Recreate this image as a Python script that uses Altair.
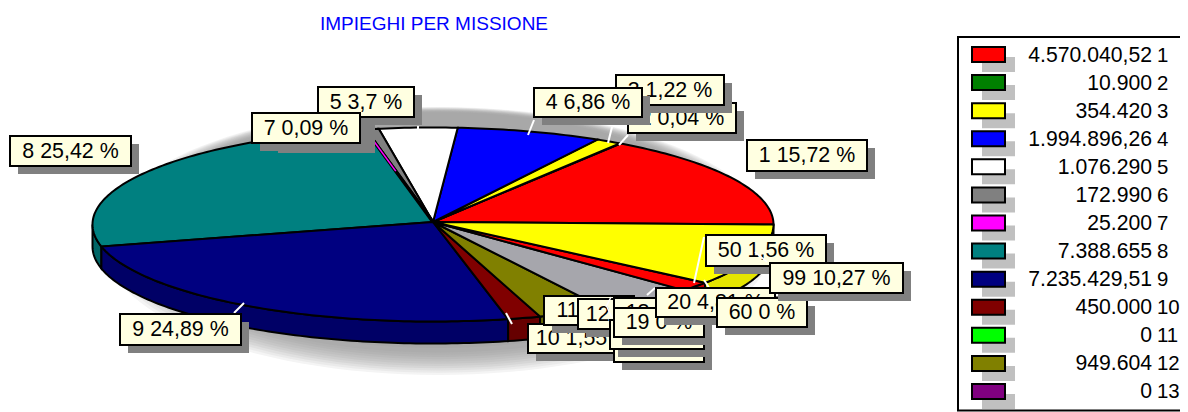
import numpy as np
import pandas as pd
import altair as alt

TITLE = "IMPIEGHI PER MISSIONE"
FONT = "Liberation Sans"

# ---- values
legend_keys = ["1", "2", "3", "4", "5", "6", "7", "8", "9", "10", "11", "12", "13"]
legend_texts = ["4.570.040,52", "10.900", "354.420", "1.994.896,26", "1.076.290", "172.990", "25.200",
                "7.388.655", "7.235.429,51", "450.000", "0", "949.604", "0"]
legend_colors = ["#ff0000", "#008000", "#ffff00", "#0000ff", "#ffffff", "#808080", "#ff00ff",
                 "#008080", "#000080", "#800000", "#00ff00", "#808000", "#800080"]

slice_values = [4570040.52, 10900, 354420, 1994896.26, 1076290, 172990, 25200, 7388655,
                7235429.51, 450000, 0, 949604, 0, 1399000, 453500, 2985000]
slice_colors = legend_colors + ["#a6a6ac", "#ff0000", "#ffff00"]
wall_colors = ["#cc0000", "#006600", "#e5e500", "#0000cc", "#d0d0d0", "#666666", "#cc00cc",
               "#006666", "#000066", "#660000", "#00cc00", "#666600", "#660066",
               "#85858a", "#cc0000", "#e5e500"]

label_texts = ["6 0,6 %", "1 15,72 %", "2 0,04 %", "3 1,22 %", "4 6,86 %", "5 3,7 %", "7 0,09 %",
               "8 25,42 %", "9 24,89 %", "10 1,55 %", "11 0 %", "12 3,27 %", "13 0 %", "17 0 %",
               "18 0 %", "19 0 %", "20 4,81 %", "50 1,56 %", "60 0 %", "99 10,27 %"]

# ---- layout (picture pixels)
W, H = 1172, 404
CX, CY, RX, RY, APEX_Y, DEPTH = 433, 224.5, 340.5, 97, 222, 22
MAGENTA_REACH = 0.45
label_boxes = [(270, 116, 367, 145), (747, 140, 867, 171), (628, 103, 736, 133), (616, 75, 724, 105),
               (534, 88, 642, 117), (318, 87, 414, 117), (252, 113, 360, 143), (10, 136, 131, 166),
               (120, 314, 241, 345), (528, 324, 640, 353), (544, 296, 634, 325), (578, 299, 690, 329),
               (614, 333, 704, 362), (610, 320, 704, 349), (614, 298, 704, 327), (614, 308, 704, 337),
               (656, 288, 775, 317), (706, 235, 826, 266), (717, 298, 807, 327), (770, 263, 903, 293)]
leaders = [(528, 135, 534, 120), (608, 143, 612, 127), (619, 145, 628, 135), (418, 130, 418, 126),
           (234, 313, 244, 303), (506, 313, 512, 324), (694, 283, 704, 237),
           (704, 280, 717, 300), (647, 295, 655, 288)]
leaders_over_boxes = [(755, 252, 767, 262), (611, 297, 606, 307), (607, 307, 612, 318)]
SHADOW_DX, SHADOW_DY = 8, 8
LEG_BOX = (958, 37, 1200, 410.5)
LEG_TOP, LEG_STEP = 54, 28.08
# soft shadow: nested ellipses, outermost first (scale, grey level)
SH_CX, SH_RX, SH_RY, SH_CY0, SH_CY1 = 438, 335, 134, 150, 91
shadow_steps = [(1.00, 244), (0.99, 234), (0.98, 224), (0.97, 214), (0.96, 206), (0.95, 198), (0.94, 192),
                (0.93, 186), (0.92, 180), (0.91, 176), (0.90, 172), (0.88, 168)]

X = lambda f="x": alt.X(f"{f}:Q", scale=alt.Scale(domain=[8, 8 + W], range=[0, W]), axis=None)
Y = lambda f="y": alt.Y(f"{f}:Q", scale=alt.Scale(domain=[8, 8 + H], range=[0, H]), axis=None)


def poly(pts, **mark):
    df = pd.DataFrame({"x": [p[0] for p in pts], "y": [p[1] for p in pts], "i": range(len(pts))})
    return alt.Chart(df).mark_line(interpolate="linear-closed", **mark).encode(
        x=X(), y=Y(), order=alt.Order("i:Q"))


def rect(x0, y0, x1, y1, **mark):
    df = pd.DataFrame({"x": [x0], "y": [y0], "x2": [x1], "y2": [y1]})
    return alt.Chart(df).mark_rect(**mark).encode(x=X(), y=Y(), x2=alt.X2("x2:Q"), y2=alt.Y2("y2:Q"))


def rule(x0, y0, x1, y1, **mark):
    d = pd.DataFrame({"x": [x0], "y": [y0], "x2": [x1], "y2": [y1]})
    return alt.Chart(d).mark_rule(**mark).encode(x=X(), y=Y(), x2=alt.X2("x2:Q"), y2=alt.Y2("y2:Q"))


def text(x, y, s, **mark):
    df = pd.DataFrame({"x": [x], "y": [y], "t": [s]})
    return alt.Chart(df).mark_text(font=FONT, baseline="middle", **mark).encode(x=X(), y=Y(), text="t:N")


def rim(a_deg, dy=0.0):
    a = np.radians(a_deg)
    return list(zip(CX + RX * np.cos(a), CY - RY * np.sin(a) + dy))


layers = []

# soft shadow behind the pie
t = np.radians(np.arange(0, 360, 3))
for f, g in shadow_steps:
    layers.append(poly(
        list(zip(SH_CX + SH_RX * f * np.cos(t), SH_CY0 + SH_CY1 * f + SH_RY * f * np.sin(t))),
        stroke=None, fill=f"rgb({g},{g},{g})",
    ))

total = sum(slice_values)
edges = np.concatenate([[0], np.cumsum(slice_values) / total * 360])

# side wall
for a0, a1, col in zip(edges[:-1], edges[1:], wall_colors):
    lo, hi = max(a0, 180), min(a1, 360)
    if hi <= lo:
        continue
    angs = np.append(np.arange(lo, hi, 1.0), hi)
    layers.append(poly(rim(angs) + rim(angs[::-1], DEPTH), fill=col, stroke="black", strokeWidth=2))

# top surface
for a0, a1, col in zip(edges[:-1], edges[1:], slice_colors):
    if a1 <= a0:
        continue
    angs = np.append(np.arange(a0, a1, 1.0), a1)
    layers.append(poly([(CX, APEX_Y)] + rim(angs), fill=col, stroke="black", strokeWidth=2))

# the very thin slice 7 stays visible as a magenta sliver
mid7 = rim(np.array([(edges[6] + edges[7]) / 2]))[0]
layers.append(rule(CX, APEX_Y, mid7[0], mid7[1], color="black", strokeWidth=3.5))
layers.append(rule(mid7[0] + (CX - mid7[0]) * 0.1, mid7[1] + (APEX_Y - mid7[1]) * 0.1,
                   mid7[0] + (CX - mid7[0]) * MAGENTA_REACH, mid7[1] + (APEX_Y - mid7[1]) * MAGENTA_REACH,
                   color=legend_colors[6], strokeWidth=1.5))

# leader lines
for seg in leaders:
    layers.append(rule(*seg, color="white", strokeWidth=2))

# data labels
for s, (x0, y0, x1, y1) in zip(label_texts, label_boxes):
    layers.append(rect(x0 + SHADOW_DX, y0 + SHADOW_DY, x1 + SHADOW_DX, y1 + SHADOW_DY, fill="#808080"))
    layers.append(rect(x0, y0, x1, y1, fill="#ffffe1", stroke="black", strokeWidth=2))
    layers.append(text((x0 + x1) / 2, (y0 + y1) / 2 + 0.5, s, fontSize=21.4, align="center", color="black"))

for seg in leaders_over_boxes:
    layers.append(rule(*seg, color="white", strokeWidth=1.5))

# title
layers.append(text(434, 24, TITLE, fontSize=19, align="center", color="#0000ff"))

# legend
layers.append(rect(*LEG_BOX, fill="white", stroke="black", strokeWidth=2))
for i, (k, s, c) in enumerate(zip(legend_keys, legend_texts, legend_colors)):
    yc = LEG_TOP + i * LEG_STEP
    layers.append(rect(982, yc + 3, 1015, yc + 18, fill="#c0c0c0"))
    layers.append(rect(972, yc - 7, 1005, yc + 8, fill=c, stroke="black", strokeWidth=2))
    layers.append(text(1152, yc + 1.5, s, fontSize=21.2, align="right", color="black"))
    layers.append(text(1157, yc + 1.5, k, fontSize=20.4, align="left", color="black"))

chart = alt.layer(*layers).properties(
    width=W, height=H, padding=0, background="white", autosize=alt.AutoSizeParams(type="none")
).configure_view(stroke=None)
chart.save("out.html", embed_options={"renderer": "svg", "actions": False})
